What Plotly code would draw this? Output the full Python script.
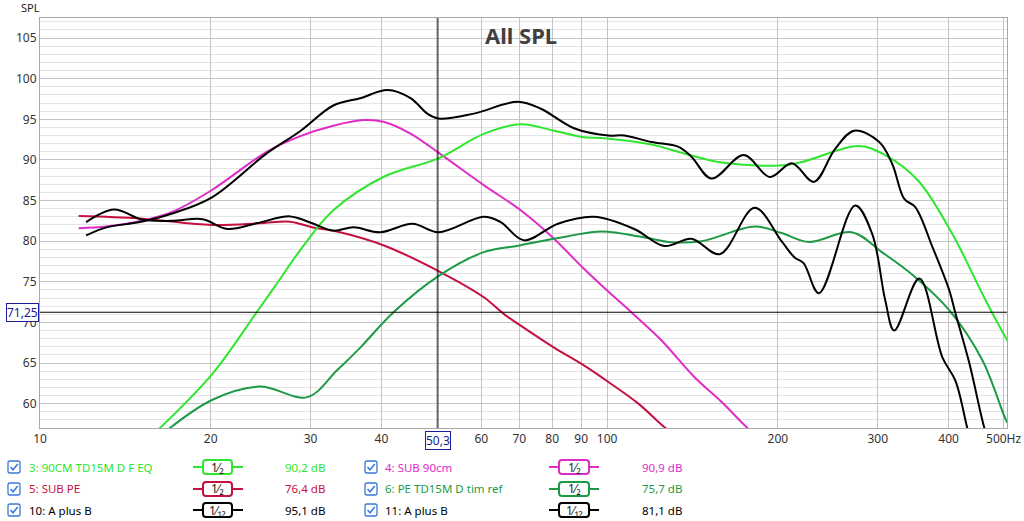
import plotly.graph_objects as go

# 3: 90CM TD15M D F EQ  (1/2 oct smoothing)
f_eq = [16.0, 20.1, 24.1, 26.3, 28.7, 32.9, 40.3, 50.4, 60.6, 70.4, 80.6, 91.0, 97.6,
        119.7, 136.6, 157.0, 200.7, 220.5, 278.0, 309.0, 353.0, 406.0, 465.0, 510.0]
spl_eq = [56.5, 63.6, 71.25, 75.0, 78.8, 83.8, 87.9, 90.2, 93.2, 94.4, 93.6, 92.8, 92.7,
          91.9, 90.8, 89.75, 89.3, 89.75, 91.7, 90.6, 87.5, 80.9, 72.7, 67.5]

# 4: SUB 90cm
f_sub90 = [11.7, 13.1, 15.1, 17.1, 20.1, 25.1, 28.7, 32.9, 37.2, 40.3, 45.0, 50.4, 60.6,
           70.4, 80.6, 91.0, 100.8, 110.3, 124.6, 142.6, 159.2, 176.2, 182.0]
spl_sub90 = [81.6, 81.8, 82.5, 83.6, 86.3, 91.0, 92.9, 94.2, 94.9, 94.7, 93.25, 90.9, 86.9,
             83.8, 80.3, 76.6, 73.7, 71.25, 67.8, 63.25, 60.2, 57.1, 56.3]

# 5: SUB PE
f_subpe = [11.7, 15.0, 20.1, 24.4, 27.6, 30.2, 33.8, 40.3, 50.8, 60.6, 65.7, 70.4, 80.6,
           91.0, 100.8, 113.5, 126.2, 130.0]
spl_subpe = [83.1, 82.8, 82.0, 82.2, 82.4, 81.7, 81.1, 79.5, 76.2, 73.1, 71.05, 69.6, 66.9,
             64.7, 62.6, 60.0, 57.1, 56.5]

# 6: PE TD15M D tim ref
f_pe = [16.6, 20.1, 24.4, 29.6, 33.4, 36.7, 42.0, 50.4, 60.6, 70.4, 85.3, 97.6, 119.7,
        128.2, 146.7, 182.0, 203.0, 227.0, 270.0, 305.0, 349.0, 401.0, 459.0, 504.0, 510.0]
spl_pe = [56.5, 60.45, 62.1, 60.8, 64.1, 66.9, 71.25, 75.7, 78.65, 79.5, 80.6, 81.2, 80.3,
          79.9, 80.0, 81.8, 81.0, 79.9, 81.1, 78.65, 75.6, 71.5, 65.3, 58.1, 57.5]

# 10: A plus B  (1/12 oct)
f_ab10 = [12.06, 13.1, 15.0, 17.1, 20.1, 25.1, 28.7, 32.9, 36.7, 41.0, 45.0, 48.2, 50.4,
          58.2, 69.6, 76.4, 87.4, 100.4, 107.2, 119.7, 133.6, 140.8, 152.8, 174.1, 193.6,
          211.7, 231.5, 252.0, 272.6, 301.8, 318.2, 334.1, 349.4, 374.5, 401.3, 411.3,
          435.4, 463.0, 470.0]
spl_ab10 = [80.7, 81.7, 82.35, 83.4, 85.4, 90.8, 93.5, 96.7, 97.6, 98.6, 97.6, 95.7, 95.1,
            95.7, 97.15, 96.3, 93.9, 93.0, 93.0, 92.2, 91.6, 90.4, 87.7, 90.6, 87.9,
            89.6, 87.3, 91.3, 93.6, 92.2, 89.5, 85.2, 84.2, 79.3, 73.9, 71.1,
            64.9, 56.9, 55.8]

# 11: A plus B  (1/12 oct)
f_ab11 = [12.06, 13.5, 15.15, 17.1, 19.35, 21.4, 24.1, 27.6, 30.2, 32.9, 35.7, 39.8, 45.4,
          50.4, 60.6, 64.9, 71.3, 81.9, 94.8, 111.6, 126.2, 140.8, 157.9, 182.0, 203.0,
          214.0, 222.0, 236.3, 273.7, 293.3, 309.3, 320.8, 355.1, 390.0, 411.3, 431.9, 437.0]
spl_ab11 = [82.35, 83.9, 82.65, 82.5, 82.7, 81.5, 82.2, 83.05, 82.2, 81.3, 81.7, 81.1, 82.15,
            81.1, 83.0, 82.35, 80.1, 82.15, 83.0, 81.5, 79.4, 80.3, 78.4, 84.1, 80.0,
            78.0, 77.3, 73.6, 84.4, 80.9, 72.7, 69.0, 75.4, 65.7, 62.8, 56.9, 55.8]

cursor_f = 50.3
cursor_spl = 71.25

x_ticks = [10, 20, 30, 40, 50, 60, 70, 80, 90, 100, 200, 300, 400, 500]
x_labels = ["10", "20", "30", "40", "", "60", "70", "80", "90", "100", "200", "300", "400", "500Hz"]

legend_names = ["3: 90CM TD15M D F EQ", "4: SUB 90cm", "5: SUB PE",
                "6: PE TD15M D tim ref", "10: A plus B", "11: A plus B"]
legend_smooth = ["1⁄₂", "1⁄₂", "1⁄₂", "1⁄₂", "1⁄₁₂", "1⁄₁₂"]
legend_values = ["90,2 dB", "90,9 dB", "76,4 dB", "75,7 dB", "95,1 dB", "81,1 dB"]

colors = ["#2fe62f", "#e02cc6", "#c4113f", "#1e9a46", "#000000", "#000000"]
series = [(f_eq, spl_eq), (f_sub90, spl_sub90), (f_subpe, spl_subpe),
          (f_pe, spl_pe), (f_ab10, spl_ab10), (f_ab11, spl_ab11)]

FONT = "Noto Sans"
L, R, T, B = 40, 1007, 18, 428
W, H = R - L, B - T


def px(x):
    return (x - L) / W


def py(y):
    return (B - y) / H


def rounded_rect(x0, y0, x1, y1, r):
    # pixel coords -> svg path in paper coords
    pts = [
        f"M {px(x0 + r)} {py(y0)}",
        f"L {px(x1 - r)} {py(y0)}",
        f"Q {px(x1)} {py(y0)} {px(x1)} {py(y0 + r)}",
        f"L {px(x1)} {py(y1 - r)}",
        f"Q {px(x1)} {py(y1)} {px(x1 - r)} {py(y1)}",
        f"L {px(x0 + r)} {py(y1)}",
        f"Q {px(x0)} {py(y1)} {px(x0)} {py(y1 - r)}",
        f"L {px(x0)} {py(y0 + r)}",
        f"Q {px(x0)} {py(y0)} {px(x0 + r)} {py(y0)}",
        "Z",
    ]
    return " ".join(pts)


def note(text, x, y, xanchor="center", size=12, color="#333", **kw):
    return dict(text=text, x=px(x), y=py(y), xref="paper", yref="paper", xanchor=xanchor,
                yanchor="middle", showarrow=False, font=dict(family=FONT, size=size, color=color), **kw)


fig = go.Figure()

# draw order: greens first, blacks on top
for i in [2, 1, 3, 0, 5, 4]:
    f, s = series[i]
    fig.add_trace(go.Scatter(x=f, y=s, mode="lines", line=dict(color=colors[i], width=2, shape="spline"),
                             showlegend=False, hoverinfo="skip"))

shapes = []
# cursor lines
shapes.append(dict(type="line", xref="x", yref="paper", x0=cursor_f, x1=cursor_f, y0=0, y1=1,
                   line=dict(color="black", width=1)))
shapes.append(dict(type="line", xref="paper", yref="y", x0=0, x1=1, y0=cursor_spl, y1=cursor_spl,
                   line=dict(color="black", width=1)))

annotations = [
    note("<b>All SPL</b>", 521, 35, size=22, color="#404040"),
    note("SPL", 19, 8, xanchor="left", size=11, color="#222"),
    note("50,3", 438, 440, color="#1a1a9a", bgcolor="white", bordercolor="#1a1a9a", borderwidth=1, borderpad=0),
    note("71,25", 22, 312, color="#1a1a9a", bgcolor="white", bordercolor="#1a1a9a", borderwidth=1, borderpad=0),
]

# legend block
rows = [467, 489, 510]
cols = [dict(cb=14, txt=27, lx0=193, lx1=243, bx0=203, bx1=232, val=327),
        dict(cb=371, txt=383, lx0=549, lx1=599, bx0=559, bx1=589, val=684)]
for i in range(6):
    c = cols[i % 2]
    y = rows[i // 2]
    col = colors[i]
    # checkbox
    shapes.append(dict(type="path", xref="paper", yref="paper",
                       path=rounded_rect(c["cb"] - 6, y - 6, c["cb"] + 6, y + 6, 2),
                       line=dict(color="#3a78d8", width=1.3), fillcolor="white"))
    shapes.append(dict(type="path", xref="paper", yref="paper",
                       path=f"M {px(c['cb'] - 3.5)} {py(y)} L {px(c['cb'] - 1)} {py(y + 2.8)} L {px(c['cb'] + 3.8)} {py(y - 3)}",
                       line=dict(color="#3a78d8", width=1.5)))
    annotations.append(note(legend_names[i], c["txt"], y, xanchor="left", size=11.5, color=col))
    # smoothing indicator
    shapes.append(dict(type="line", xref="paper", yref="paper", x0=px(c["lx0"]), x1=px(c["lx1"]),
                       y0=py(y), y1=py(y), line=dict(color=col, width=2)))
    shapes.append(dict(type="path", xref="paper", yref="paper",
                       path=rounded_rect(c["bx0"], y - 7, c["bx1"], y + 7, 3),
                       line=dict(color=col, width=2), fillcolor="white"))
    annotations.append(note(legend_smooth[i], (c["bx0"] + c["bx1"]) / 2, y, size=12, color="#222"))
    annotations.append(note(legend_values[i], c["val"], y, xanchor="right", size=11.5, color=col))

fig.update_layout(
    width=1024, height=521,
    margin=dict(l=L, r=1024 - R, t=T, b=521 - B),
    paper_bgcolor="white", plot_bgcolor="white",
    shapes=shapes, annotations=annotations,
    xaxis=dict(type="log", range=[1, 2.705], tickvals=x_ticks, ticktext=x_labels,
               showgrid=True, gridcolor="#c4c4c4", gridwidth=1, zeroline=False, automargin=False,
               showline=True, mirror=True, linecolor="#a8a8a8", linewidth=1, ticks="",
               tickfont=dict(family=FONT, size=12, color="#333")),
    yaxis=dict(range=[57.0, 107.47], tick0=0, dtick=5, showgrid=True, gridcolor="#c4c4c4",
               minor=dict(dtick=1, showgrid=True, gridcolor="#e4e4e4", gridwidth=1),
               zeroline=False, showline=True, mirror=True, linecolor="#a8a8a8", linewidth=1,
               automargin=False, ticks="", tickfont=dict(family=FONT, size=12, color="#333")),
)

fig.write_html("out.html", config={"displayModeBar": False},
               post_script="document.body.style.margin='0';")
